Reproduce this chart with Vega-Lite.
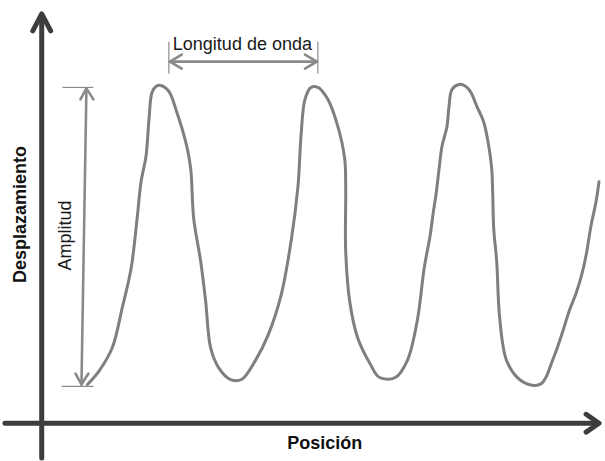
{
  "$schema": "https://vega.github.io/schema/vega-lite/v6.json",
  "width": 605,
  "height": 461,
  "padding": 0,
  "autosize": {"type": "fit", "contains": "padding"},
  "background": "white",
  "config": {"view": {"stroke": null}},
  "datasets": {
    "axes": [
      {"seg": "yaxis", "i": 0, "x": 0, "y": -35},
      {"seg": "yaxis", "i": 1, "x": 0, "y": 410},
      {"seg": "yhead", "i": 0, "x": -9, "y": 395},
      {"seg": "yhead", "i": 1, "x": 0, "y": 412},
      {"seg": "yhead", "i": 2, "x": 9, "y": 395},
      {"seg": "xaxis", "i": 0, "x": -37, "y": 0},
      {"seg": "xaxis", "i": 1, "x": 560, "y": 0},
      {"seg": "xhead", "i": 0, "x": 548, "y": 9},
      {"seg": "xhead", "i": 1, "x": 561, "y": 0},
      {"seg": "xhead", "i": 2, "x": 548, "y": -9}
    ],
    "guides": [
      {"seg": "amp", "i": 0, "x": 45, "y": 337},
      {"seg": "amp", "i": 1, "x": 40, "y": 39},
      {"seg": "amptop", "i": 0, "x": 39, "y": 326},
      {"seg": "amptop", "i": 1, "x": 45, "y": 337},
      {"seg": "amptop", "i": 2, "x": 52, "y": 326},
      {"seg": "ampbot", "i": 0, "x": 34, "y": 50},
      {"seg": "ampbot", "i": 1, "x": 40, "y": 39},
      {"seg": "ampbot", "i": 2, "x": 47, "y": 50},
      {"seg": "wl", "i": 0, "x": 129, "y": 364},
      {"seg": "wl", "i": 1, "x": 277, "y": 364},
      {"seg": "wlleft", "i": 0, "x": 141, "y": 371},
      {"seg": "wlleft", "i": 1, "x": 129, "y": 364},
      {"seg": "wlleft", "i": 2, "x": 141, "y": 357},
      {"seg": "wlright", "i": 0, "x": 265, "y": 371},
      {"seg": "wlright", "i": 1, "x": 277, "y": 364},
      {"seg": "wlright", "i": 2, "x": 265, "y": 357}
    ],
    "ticks": [
      {"seg": "t1", "i": 0, "x": 21, "y": 338},
      {"seg": "t1", "i": 1, "x": 52, "y": 338},
      {"seg": "t2", "i": 0, "x": 20, "y": 37},
      {"seg": "t2", "i": 1, "x": 52, "y": 37},
      {"seg": "t3", "i": 0, "x": 128, "y": 384},
      {"seg": "t3", "i": 1, "x": 128, "y": 352},
      {"seg": "t4", "i": 0, "x": 278, "y": 384},
      {"seg": "t4", "i": 1, "x": 278, "y": 352}
    ],
    "wave": [
      {"i": 0, "x": 46, "y": 39}, {"i": 1, "x": 48, "y": 41}, {"i": 2, "x": 58, "y": 53},
      {"i": 3, "x": 71, "y": 76}, {"i": 4, "x": 81, "y": 116}, {"i": 5, "x": 90, "y": 156},
      {"i": 6, "x": 96, "y": 206}, {"i": 7, "x": 100, "y": 243}, {"i": 8, "x": 105, "y": 269},
      {"i": 9, "x": 108, "y": 306}, {"i": 10, "x": 111, "y": 333}, {"i": 11, "x": 115, "y": 339},
      {"i": 12, "x": 120, "y": 340}, {"i": 13, "x": 128, "y": 334}, {"i": 14, "x": 136, "y": 313},
      {"i": 15, "x": 146, "y": 279}, {"i": 16, "x": 150, "y": 256}, {"i": 17, "x": 153, "y": 206},
      {"i": 18, "x": 160, "y": 163}, {"i": 19, "x": 165, "y": 123}, {"i": 20, "x": 170, "y": 76},
      {"i": 21, "x": 178, "y": 56}, {"i": 22, "x": 190, "y": 44}, {"i": 23, "x": 201, "y": 44},
      {"i": 24, "x": 215, "y": 63}, {"i": 25, "x": 228, "y": 89}, {"i": 26, "x": 241, "y": 129},
      {"i": 27, "x": 251, "y": 183}, {"i": 28, "x": 258, "y": 239}, {"i": 29, "x": 261, "y": 289},
      {"i": 30, "x": 265, "y": 326}, {"i": 31, "x": 271, "y": 338}, {"i": 32, "x": 278, "y": 338},
      {"i": 33, "x": 288, "y": 326}, {"i": 34, "x": 298, "y": 299}, {"i": 35, "x": 305, "y": 266},
      {"i": 36, "x": 306, "y": 239}, {"i": 37, "x": 306, "y": 173}, {"i": 38, "x": 310, "y": 123},
      {"i": 39, "x": 318, "y": 86}, {"i": 40, "x": 331, "y": 59}, {"i": 41, "x": 340, "y": 46},
      {"i": 42, "x": 356, "y": 46}, {"i": 43, "x": 368, "y": 63}, {"i": 44, "x": 378, "y": 103},
      {"i": 45, "x": 385, "y": 156}, {"i": 46, "x": 391, "y": 189}, {"i": 47, "x": 394, "y": 211},
      {"i": 48, "x": 397, "y": 231}, {"i": 49, "x": 400, "y": 256}, {"i": 50, "x": 403, "y": 279},
      {"i": 51, "x": 408, "y": 299}, {"i": 52, "x": 410, "y": 319}, {"i": 53, "x": 413, "y": 336},
      {"i": 54, "x": 420, "y": 341}, {"i": 55, "x": 427, "y": 339}, {"i": 56, "x": 432, "y": 333},
      {"i": 57, "x": 438, "y": 319}, {"i": 58, "x": 445, "y": 303}, {"i": 59, "x": 450, "y": 279},
      {"i": 60, "x": 453, "y": 256}, {"i": 61, "x": 454, "y": 231}, {"i": 62, "x": 455, "y": 196},
      {"i": 63, "x": 458, "y": 163}, {"i": 64, "x": 461, "y": 106}, {"i": 65, "x": 468, "y": 63},
      {"i": 66, "x": 481, "y": 44}, {"i": 67, "x": 496, "y": 38}, {"i": 68, "x": 503, "y": 40},
      {"i": 69, "x": 508, "y": 47}, {"i": 70, "x": 513, "y": 60}, {"i": 71, "x": 519, "y": 76},
      {"i": 72, "x": 525, "y": 94}, {"i": 73, "x": 531, "y": 113}, {"i": 74, "x": 538, "y": 131},
      {"i": 75, "x": 544, "y": 151}, {"i": 76, "x": 548, "y": 169}, {"i": 77, "x": 553, "y": 199},
      {"i": 78, "x": 558, "y": 223}, {"i": 79, "x": 561, "y": 243}
    ],
    "boldlabels": [
      {"label": "Posición", "x": 285, "y": -21}
    ],
    "boldrot": [
      {"label": "Desplazamiento", "x": -21, "y": 210}
    ],
    "plainlabels": [
      {"label": "Longitud de onda", "x": 202, "y": 381}
    ],
    "plainrot": [
      {"label": "Amplitud", "x": 24, "y": 189}
    ]
  },
  "encoding": {
    "x": {"field": "x", "type": "quantitative", "scale": {"domain": [-42, 563], "nice": false, "zero": false}, "axis": null},
    "y": {"field": "y", "type": "quantitative", "scale": {"domain": [-35, 426], "nice": false, "zero": false}, "axis": null}
  },
  "layer": [
    {
      "data": {"name": "ticks"},
      "mark": {"type": "line", "color": "#8c8c8c", "strokeWidth": 1.2},
      "encoding": {"detail": {"field": "seg"}, "order": {"field": "i", "type": "quantitative"}}
    },
    {
      "data": {"name": "guides"},
      "mark": {"type": "line", "color": "#8a8a8a", "strokeWidth": 2.6, "strokeCap": "round", "strokeJoin": "round"},
      "encoding": {"detail": {"field": "seg"}, "order": {"field": "i", "type": "quantitative"}}
    },
    {
      "data": {"name": "wave"},
      "mark": {"type": "line", "color": "#7f7f7f", "strokeWidth": 3, "interpolate": "catmull-rom", "strokeCap": "round"},
      "encoding": {"order": {"field": "i", "type": "quantitative"}}
    },
    {
      "data": {"name": "axes"},
      "mark": {"type": "line", "color": "#3d3d3d", "strokeWidth": 5, "strokeCap": "round", "strokeJoin": "round"},
      "encoding": {"detail": {"field": "seg"}, "order": {"field": "i", "type": "quantitative"}}
    },
    {
      "data": {"name": "boldlabels"},
      "mark": {"type": "text", "font": "Liberation Sans", "fontSize": 18, "fontWeight": "bold", "color": "#111111", "align": "center", "baseline": "middle"},
      "encoding": {"text": {"field": "label"}}
    },
    {
      "data": {"name": "boldrot"},
      "mark": {"type": "text", "font": "Liberation Sans", "fontSize": 18, "fontWeight": "bold", "color": "#111111", "align": "center", "baseline": "middle", "angle": 270},
      "encoding": {"text": {"field": "label"}}
    },
    {
      "data": {"name": "plainlabels"},
      "mark": {"type": "text", "font": "Liberation Sans", "fontSize": 18, "color": "#1a1a1a", "align": "center", "baseline": "middle"},
      "encoding": {"text": {"field": "label"}}
    },
    {
      "data": {"name": "plainrot"},
      "mark": {"type": "text", "font": "Liberation Sans", "fontSize": 18, "color": "#1a1a1a", "align": "center", "baseline": "middle", "angle": 270},
      "encoding": {"text": {"field": "label"}}
    }
  ]
}
